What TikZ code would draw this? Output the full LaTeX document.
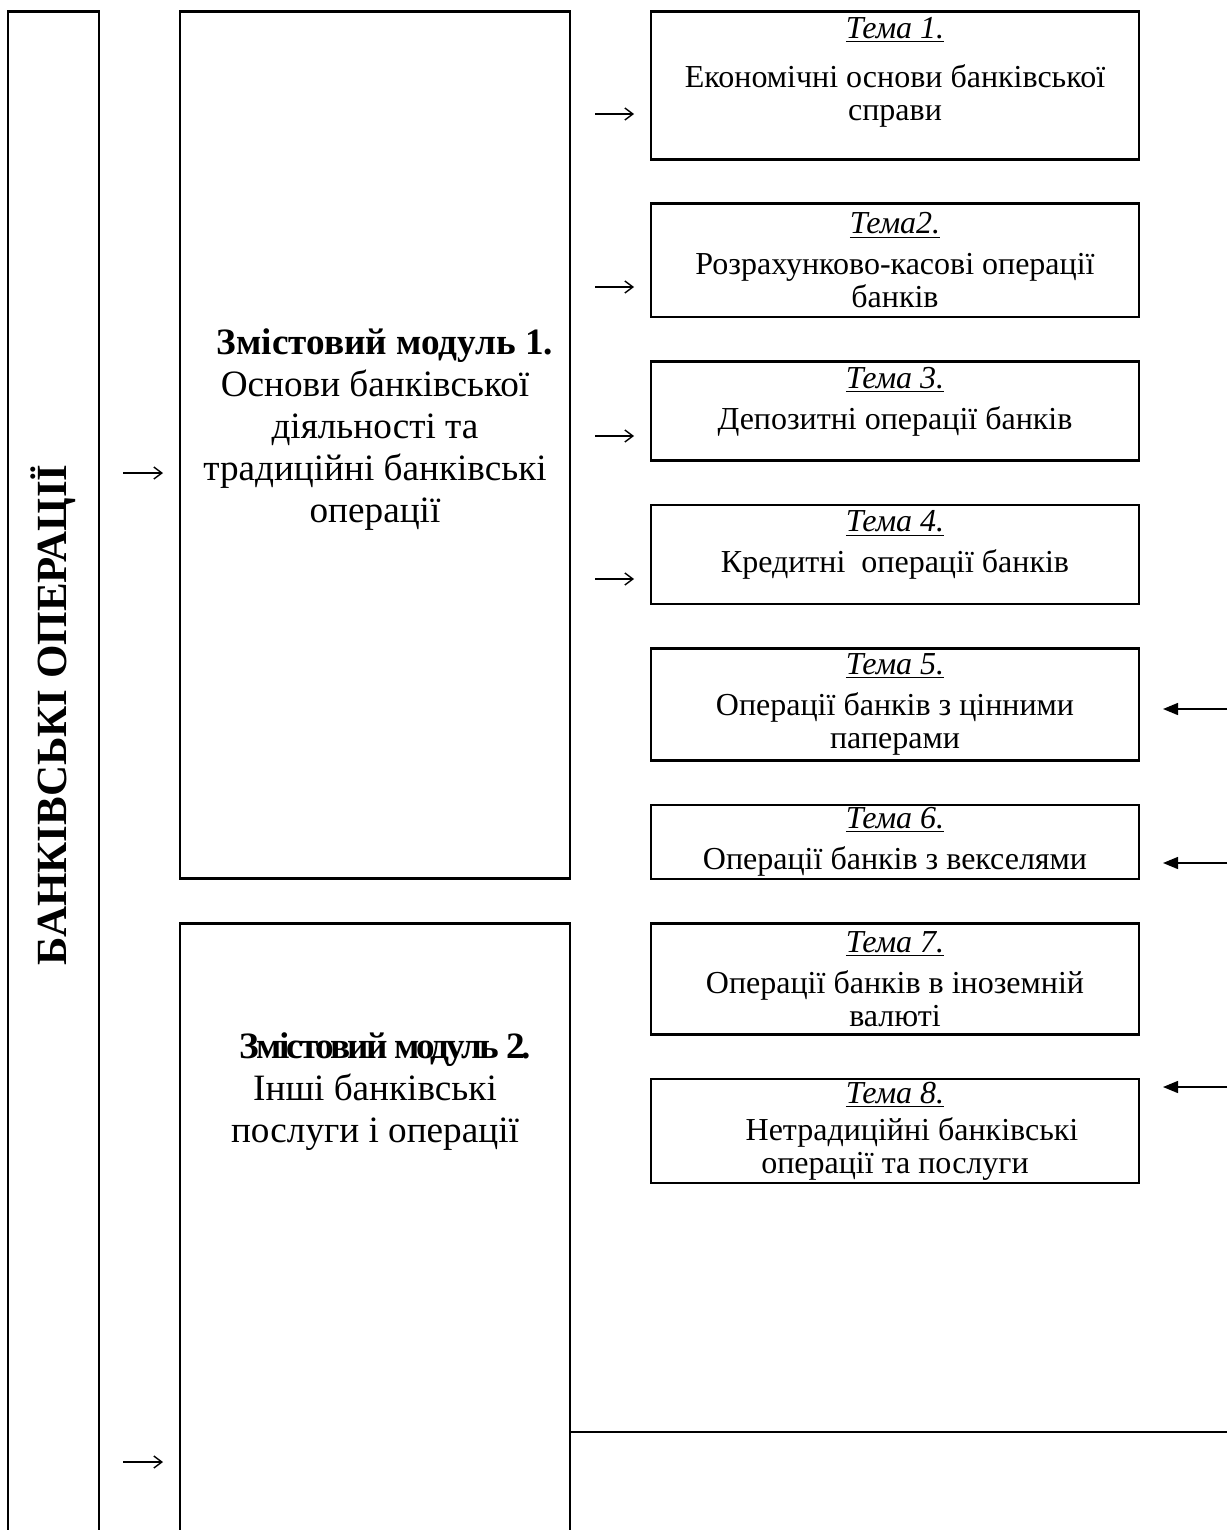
\documentclass[tikz,border=0pt]{standalone}
\usepackage{fontspec}
\setmainfont{Liberation Serif}
\usetikzlibrary{positioning, arrows.meta}

\begin{document}
\begin{tikzpicture}[
    x=0.5pt, y=-0.5pt,
    node distance=20.85pt,
    every node/.style={align=center, inner sep=2pt},
    box/.style={draw, line width=1.4pt},
    tema/.style={box, inner ysep=0pt, minimum width=244pt, font=\fontsize{16}{16.5}\selectfont},
    modul/.style={box, minimum width=195pt},
    modtext/.style={font=\fontsize{18.6}{21}\selectfont},
    glyph/.style={line width=0.7pt, -{Straight Barb[length=4pt, width=6pt]}},
    back/.style={line width=0.7pt, -{Triangle[length=7.5pt, width=6pt]}}
]
\useasboundingbox (0,0) rectangle (1227,1530);
\clip (0,0) rectangle (1227,1530);

% left column
\node[box, minimum width=45.5pt, minimum height=800pt, anchor=north] (bank) at (53.5,10) {};
\node[rotate=90, font=\fontsize{21.5}{24}\selectfont\bfseries] (title) at (53.5,715) {БАНКІВСЬКІ ОПЕРАЦІЇ};

% modules
\node[modul, minimum height=433.5pt, anchor=north] (m1) at (375,10) {};
\node[modtext] (m1t) at (375,430) {\hspace*{10pt}\textbf{Змістовий модуль 1.}\\ Основи банківської\\ діяльності та\\ традиційні банківські\\ операції};
\node[modul, minimum height=400pt, anchor=north] (m2) at (375,922) {};
\node[modtext] (m2t) at (375,1092) {\hspace*{9pt}\textbf{\addfontfeature{LetterSpace=-7.5}Змістовий модуль 2.}\\ Інші банківські\\ послуги і операції};

% topics
\node[tema, minimum height=74pt, anchor=north] (t1) at (895,10) {\underline{\textit{Тема 1.}}\\[8pt] Економічні основи банківської\\ справи\\[0pt]~};
\node[tema, minimum height=56.5pt, below=of t1] (t2) {\underline{\textit{Тема2.}}\\[4pt] Розрахунково-касові операції\\ банків};
\node[tema, minimum height=49.5pt, below=of t2] (t3) {\underline{\textit{Тема 3.}}\\[4pt] Депозитні операції банків\\[-4pt]~};
\node[tema, minimum height=49.5pt, below=of t3] (t4) {\underline{\textit{Тема 4.}}\\[4pt] Кредитні~ операції банків\\[-4pt]~};
\node[tema, minimum height=56pt, below=of t4] (t5) {\underline{\textit{Тема 5.}}\\[4pt] Операції банків з цінними\\ паперами};
\node[tema, minimum height=37pt, below=of t5] (t6) {\underline{\textit{Тема 6.}}\\[4pt] Операції банків з векселями};
\node[tema, minimum height=55.5pt, below=of t6] (t7) {\underline{\textit{Тема 7.}}\\[4pt] Операції банків в іноземній\\ валюті};
\node[tema, minimum height=52pt, below=of t7] (t8) {\underline{\textit{Тема 8.}}\\[2pt] \hspace*{17pt}Нетрадиційні банківські\\ операції та послуги};

% arrows
\coordinate (g1) at (595,114); \coordinate (h1) at (634,114);
\coordinate (g2) at (595,287); \coordinate (h2) at (634,287);
\coordinate (g3) at (595,436); \coordinate (h3) at (634,436);
\coordinate (g4) at (595,579); \coordinate (h4) at (634,579);
\coordinate (l1) at (123,473); \coordinate (k1) at (163,473);
\coordinate (l2) at (123,1462); \coordinate (k2) at (163,1462);
\foreach \a/\b in {g1/h1, g2/h2, g3/h3, g4/h4, l1/k1, l2/k2}
    \draw[glyph] (\a) -- (\b);

\coordinate (r5) at (1227,709); \coordinate (s5) at (1163,709);
\coordinate (r6) at (1227,863); \coordinate (s6) at (1163,863);
\coordinate (r8) at (1227,1087); \coordinate (s8) at (1163,1087);
\foreach \a/\b in {r5/s5, r6/s6, r8/s8}
    \draw[back] (\a) -- (\b);

\coordinate (rim) at (1227,1432);
\draw[line width=1pt] (rim -| m2.east) -- (rim);
\end{tikzpicture}
\end{document}
